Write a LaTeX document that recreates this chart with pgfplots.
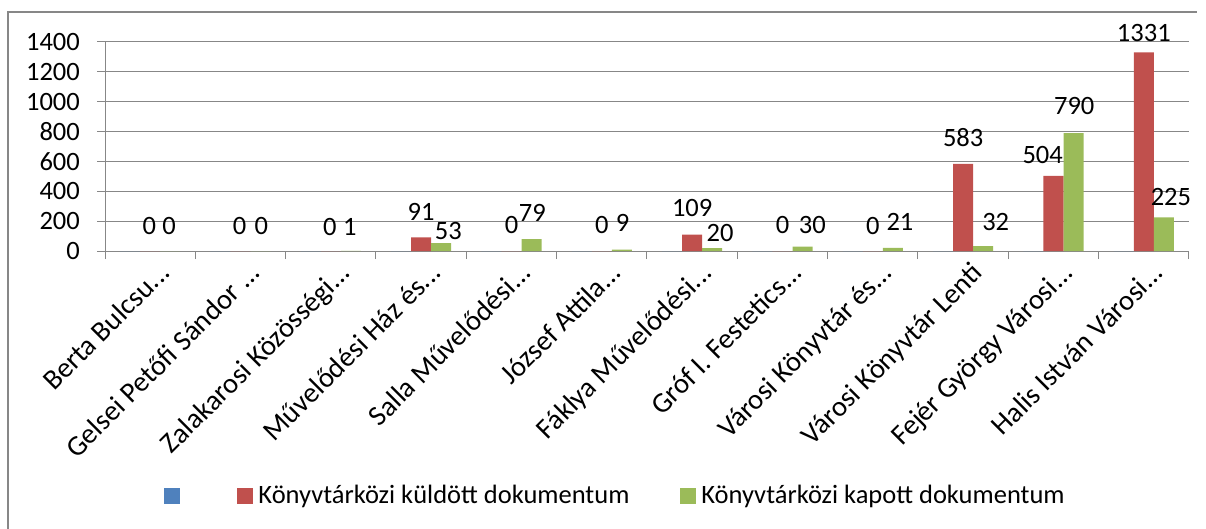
\documentclass[border=0pt]{standalone}
\usepackage{fontspec}
\setmainfont{Carlito}
\usepackage{pgfplots}
\usepackage{pgfplotstable}
\pgfplotsset{compat=1.18}
\definecolor{cBlue}{HTML}{4F81BD}
\definecolor{cRed}{HTML}{C0504D}
\definecolor{cGreen}{HTML}{9BBB59}
\definecolor{cGrid}{HTML}{878787}
\newcommand\f{\fontsize{26.5bp}{31bp}\selectfont}
\newcommand\fc{\fontsize{28.5bp}{33bp}\selectfont}
\newcommand\td{...}

\pgfplotstableread{
x blue red green
0 0 0 0
1 0 0 0
2 0 0 1
3 0 91 53
4 0 0 79
5 0 0 9
6 0 109 20
7 0 0 30
8 0 0 21
9 0 583 32
10 0 504 790
11 0 1331 225
}\data

\pgfplotstableread{
x y t
-0.01 167 0
0.21 167 0
0.99 167 0
1.23 167 0
1.99 160 0
2.21 160 1
3.00 261 91
3.30 134 53
4.00 174 0
4.23 254 79
5.00 174 0
5.23 187 9
6.00 288 109
6.31 120 20
7.00 174 0
7.33 174 30
8.00 167 0
8.30 194 21
9.00 763 583
9.36 194 32
9.88 642 504
10.23 970 790
11.00 1458 1331
11.30 361 225
}\labels

\begin{document}
\begin{tikzpicture}
\useasboundingbox (0,0) rectangle (1206bp,529bp);
\draw[cGrid, line width=1.3bp] (8bp,0) -- (8bp,517bp) -- (1197bp,517bp);
\begin{axis}[
  at={(105bp,278bp)}, anchor=south west,
  scale only axis, width=1084bp, height=209bp,
  xmin=-0.5, xmax=11.5, ymin=0, ymax=1400,
  clip=false,
  axis lines*=left,
  axis line style={cGrid, line width=1bp},
  ytick={0,200,...,1400},
  ymajorgrids, grid style={cGrid, line width=1bp},
  xtick={0,...,11},
  xticklabels={Berta Bulcsu\td,Gelsei Petőfi Sándor \td,Zalakarosi Közösségi\td,Művelődési Ház és\td,Salla Művelődési\td,József Attila\td,Fáklya Művelődési\td,Gróf I. Festetics\td,Városi Könyvtár és\td,Városi Könyvtár Lenti,Fejér György Városi\td,Halis István Városi\td},
  minor xtick={-0.5,0.5,...,11.5},
  tick align=outside,
  major tick length=8bp, minor tick length=8bp,
  major x tick style={draw=none},
  tick style={cGrid, line width=1bp},
  tick label style={font=\f},
  /pgf/number format/assume math mode=true,
  /pgf/number format/1000 sep={},
  yticklabel style={anchor=east, inner sep=0pt, xshift=-17bp},
  xticklabel style={font=\fc, rotate=45, anchor=north east, inner sep=0pt, xshift=4bp, yshift=-6bp},
  legend style={at={(0.0544,-1.170)}, anchor=west, draw=none, inner sep=0pt, font=\f,
    legend columns=3, nodes={inner sep=0pt},
    /tikz/every even column/.append style={column sep=50.5bp}},
]
\addplot[ybar, bar width=0.2215, bar shift=-0.2215, fill=cBlue, draw=none, forget plot] table[x=x,y=blue]{\data};
\addplot[ybar, bar width=0.2215, bar shift=0, fill=cRed, draw=none, forget plot] table[x=x,y=red]{\data};
\addplot[ybar, bar width=0.2215, bar shift=0.2215, fill=cGreen, draw=none, forget plot] table[x=x,y=green]{\data};
\addplot[draw=none, forget plot, nodes near coords, point meta=explicit symbolic,
  nodes near coords style={anchor=center, font=\f, inner sep=0pt}] table[x=x,y=y,meta=t]{\labels};
\addlegendimage{legend image code/.code={\fill[cBlue] (0bp,-7.5bp) rectangle (15bp,7.5bp); \path (21bp,0bp);}}
\addlegendentry{}
\addlegendimage{legend image code/.code={\fill[cRed] (0bp,-7.5bp) rectangle (15bp,7.5bp); \path (21bp,0bp);}}
\addlegendentry{Könyvtárközi küldött dokumentum}
\addlegendimage{legend image code/.code={\fill[cGreen] (0bp,-7.5bp) rectangle (15bp,7.5bp); \path (21bp,0bp);}}
\addlegendentry{Könyvtárközi kapott dokumentum}
\end{axis}
\end{tikzpicture}
\end{document}
